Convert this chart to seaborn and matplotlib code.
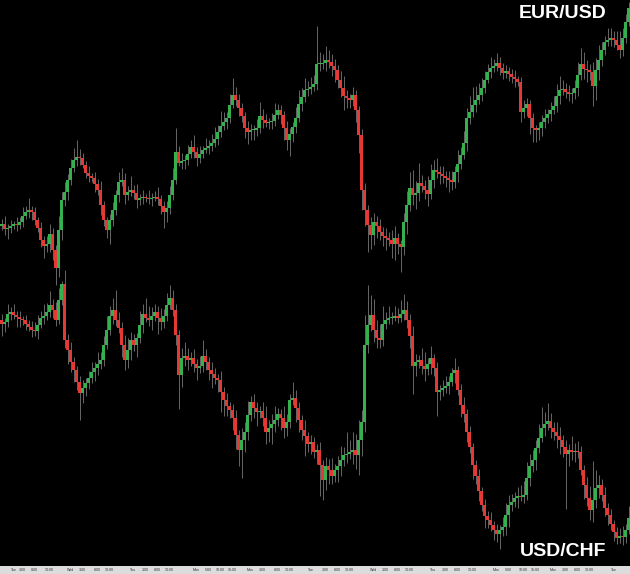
import matplotlib
matplotlib.use("Agg")
import matplotlib.pyplot as plt
import seaborn as sns
import numpy as np
import pandas as pd

# closes in pips above the base price, one per 15-min-ish candle
eur_base = 1.3000
eur_close_pips = [
    76, 71, 72, 74, 76, 75, 78, 84, 88, 90, 88, 80, 72, 60, 54, 56, 66, 50, 32, 70, 100,
    108, 120, 132, 140, 143, 142, 135, 127, 124, 122, 116, 110, 95, 80, 70, 80, 90, 105, 118, 120,
    105, 108, 110, 107, 100, 102, 103, 102, 101, 102, 103, 101, 94, 88, 92, 105, 120, 148, 137, 139,
    140, 146, 153, 148, 142, 146, 150, 152, 154, 157, 161, 168, 174, 178, 182, 195, 205, 200, 192, 184,
    172, 168, 170, 170, 172, 184, 180, 177, 178, 179, 185, 190, 185, 172, 160, 166, 173, 182, 196, 203,
    210, 211, 213, 216, 236, 236, 237, 240, 238, 234, 230, 220, 212, 204, 202, 200, 205, 190, 165, 110,
    90, 75, 65, 78, 74, 68, 64, 62, 60, 56, 62, 56, 53, 78, 95, 112, 105, 107, 117, 114,
    110, 106, 120, 130, 128, 126, 124, 122, 120, 118, 128, 136, 145, 157, 182, 188, 195, 200, 205, 212,
    220, 228, 232, 234, 237, 232, 227, 229, 226, 223, 221, 218, 188, 192, 196, 182, 172, 170, 172, 178,
    182, 186, 190, 194, 204, 210, 211, 208, 206, 207, 212, 225, 236, 231, 230, 228, 214, 230, 240, 250,
    258, 260, 262, 260, 255, 250, 262, 278, 292,
]
eur_open0_pips = 74
eur_wick_up = [
    5, 8, 4, 6, 3, 7, 5, 9, 6, 12, 4, 5, 3, 6, 4, 8, 10, 6, 5, 14, 8,
    10, 6, 9, 12, 17, 8, 5, 4, 7, 3, 6, 5, 9, 4, 3, 6, 8, 5, 10, 12, 7,
    6, 14, 5, 9, 4, 7, 3, 8, 5, 6, 10, 4, 5, 7, 9, 12, 24, 6, 8, 5, 9,
    7, 12, 5, 8, 4, 10, 6, 9, 12, 7, 15, 10, 6, 11, 17, 8, 6, 5, 4, 7, 6,
    5, 9, 14, 7, 6, 4, 8, 12, 6, 5, 4, 7, 6, 5, 11, 14, 9, 12, 8, 10, 9,
    38, 12, 9, 14, 10, 8, 7, 5, 9, 12, 6, 4, 8, 5, 4, 6, 7, 5, 8, 9, 6,
    7, 5, 8, 6, 10, 12, 5, 4, 9, 14, 16, 18, 12, 20, 8, 6, 14, 16, 10, 12, 6,
    8, 5, 7, 9, 6, 14, 8, 12, 10, 16, 18, 14, 12, 10, 9, 8, 11, 7, 10, 6, 5,
    6, 4, 5, 7, 3, 5, 8, 6, 4, 5, 3, 6, 7, 9, 5, 8, 10, 12, 14, 9, 6,
    7, 5, 8, 13, 16, 12, 9, 6, 10, 12, 15, 8, 6, 12, 10, 7, 9, 14, 10, 8, 6,
]
eur_wick_dn = [
    4, 6, 10, 5, 3, 6, 4, 5, 3, 6, 8, 5, 4, 7, 12, 6, 8, 10, 17, 9, 10,
    6, 8, 5, 4, 6, 7, 3, 5, 6, 4, 8, 5, 10, 6, 8, 14, 6, 5, 7, 4, 9,
    5, 4, 6, 8, 5, 6, 4, 5, 7, 3, 6, 8, 16, 10, 6, 5, 4, 3, 6, 8, 5,
    4, 6, 8, 5, 4, 3, 6, 5, 4, 6, 5, 4, 7, 5, 3, 6, 8, 6, 10, 12, 8,
    10, 6, 5, 8, 4, 6, 7, 5, 4, 9, 12, 10, 16, 8, 6, 4, 7, 5, 6, 5, 4,
    6, 7, 5, 8, 6, 10, 12, 8, 9, 14, 10, 8, 6, 12, 18, 20, 16, 27, 14, 10, 12,
    8, 10, 12, 6, 14, 16, 10, 25, 8, 12, 6, 10, 14, 8, 6, 9, 12, 5, 8, 6, 10,
    7, 9, 12, 8, 6, 10, 5, 4, 8, 6, 5, 7, 4, 6, 5, 3, 6, 4, 5, 7, 6,
    5, 7, 6, 8, 4, 10, 6, 8, 16, 14, 12, 10, 8, 6, 5, 7, 4, 6, 8, 5, 6,
    7, 9, 6, 8, 5, 10, 12, 8, 20, 14, 10, 6, 5, 4, 6, 7, 5, 8, 6, 5, 4,
]

chf_base = 0.9000
chf_close_pips = [
    236, 238, 246, 248, 245, 243, 241, 240, 236, 233, 230, 229, 235, 242, 244, 248, 255, 250, 240, 260, 276,
    220, 210, 198, 190, 178, 167, 172, 177, 182, 188, 192, 196, 200, 215, 230, 244, 250, 240, 232, 215,
    200, 210, 220, 215, 222, 235, 246, 242, 240, 244, 248, 242, 238, 244, 255, 262, 250, 225, 185, 202,
    204, 200, 202, 196, 192, 194, 204, 198, 190, 186, 182, 180, 168, 160, 154, 150, 142, 125, 110, 120,
    128, 145, 158, 152, 148, 149, 142, 128, 132, 136, 140, 146, 142, 132, 138, 160, 162, 152, 140, 130,
    124, 116, 118, 108, 110, 95, 80, 94, 90, 84, 90, 94, 100, 105, 106, 108, 110, 105, 120, 138,
    215, 235, 245, 230, 222, 220, 236, 240, 242, 242, 244, 242, 246, 250, 240, 224, 194, 198, 200, 194,
    191, 196, 202, 192, 168, 170, 172, 174, 178, 187, 190, 170, 155, 146, 128, 113, 95, 84, 69, 55,
    44, 40, 35, 30, 26, 30, 33, 45, 55, 58, 62, 64, 63, 65, 82, 94, 100, 112, 122, 132,
    136, 139, 132, 128, 124, 120, 113, 106, 110, 108, 109, 108, 90, 75, 62, 50, 60, 72, 75, 65,
    52, 45, 36, 28, 22, 24, 23, 30, 42,
]
chf_open0_pips = 240
chf_wick_up = [
    6, 4, 10, 5, 8, 4, 6, 3, 5, 4, 6, 8, 10, 7, 12, 9, 14, 6, 8, 12, 3,
    14, 6, 8, 5, 4, 6, 8, 5, 7, 10, 6, 12, 8, 9, 14, 10, 12, 20, 8, 6, 10,
    12, 8, 6, 5, 14, 10, 16, 12, 9, 8, 6, 10, 7, 12, 13, 8, 6, 5, 10, 14, 8,
    6, 9, 5, 10, 16, 7, 5, 8, 6, 4, 9, 5, 7, 4, 6, 8, 5, 12, 10, 14, 6,
    8, 6, 5, 9, 12, 8, 10, 14, 6, 5, 12, 8, 6, 16, 8, 6, 5, 10, 4, 7, 5,
    6, 8, 5, 9, 7, 12, 6, 10, 14, 8, 22, 12, 18, 16, 20, 12, 30, 40, 20, 16, 10,
    14, 18, 8, 12, 6, 10, 8, 14, 16, 9, 6, 10, 8, 5, 12, 14, 6, 12, 4, 6, 5,
    8, 10, 6, 5, 12, 4, 6, 8, 5, 6, 4, 5, 7, 4, 6, 5, 8, 4, 6, 5, 10,
    12, 10, 8, 6, 9, 11, 14, 16, 12, 10, 8, 14, 21, 12, 18, 8, 6, 10, 9, 5, 7,
    6, 14, 8, 10, 6, 5, 8, 12, 39, 18, 10, 6, 8, 5, 6, 4, 5, 8, 10, 6, 12,
]
chf_wick_dn = [
    12, 8, 5, 6, 4, 10, 8, 5, 6, 4, 7, 5, 8, 3, 6, 4, 5, 8, 6, 4, 5,
    8, 14, 10, 12, 8, 27, 10, 8, 6, 5, 9, 7, 5, 6, 4, 5, 8, 6, 5, 12, 10,
    8, 10, 6, 12, 5, 8, 4, 6, 10, 5, 16, 8, 6, 5, 4, 6, 10, 34, 12, 8, 10,
    6, 8, 12, 5, 6, 8, 10, 14, 6, 12, 20, 16, 10, 8, 12, 14, 16, 28, 12, 8, 6,
    10, 14, 6, 8, 12, 10, 16, 8, 6, 12, 10, 8, 6, 5, 14, 12, 10, 20, 8, 10, 6,
    12, 31, 20, 10, 14, 8, 6, 12, 10, 6, 8, 5, 12, 14, 20, 16, 10, 8, 6, 12, 10,
    8, 6, 5, 4, 6, 3, 5, 4, 6, 8, 12, 28, 10, 6, 8, 12, 6, 10, 8, 24, 8,
    6, 5, 8, 4, 10, 5, 12, 8, 10, 6, 14, 8, 10, 6, 12, 8, 6, 10, 8, 15, 6,
    8, 12, 6, 5, 10, 4, 6, 5, 8, 6, 10, 5, 4, 8, 6, 10, 8, 12, 14, 10, 55,
    12, 8, 10, 6, 5, 14, 8, 10, 12, 8, 10, 6, 8, 10, 6, 9, 6, 5, 8, 6, 4,
]

# time axis labels (candle index where each label sits)
tick_idx = [4, 7, 11, 16, 23, 27, 32, 36, 44, 48, 52, 56, 65, 69, 73, 77, 83, 87, 92, 96,
            103, 108, 112, 116, 124, 128, 132, 136, 144, 148, 152, 157, 165, 169, 174, 178,
            184, 188, 192, 196, 204]
tick_labels = ["Tue", "3:00", "8:00", "13:00", "Wed", "3:00", "8:00", "13:00",
               "Thu", "3:00", "8:00", "13:00", "Mon", "5:00", "10:00", "15:00",
               "Mon", "3:00", "8:00", "13:00", "Tue", "3:00", "8:00", "13:00",
               "Wed", "3:00", "8:00", "13:00", "Thu", "3:00", "8:00", "13:00",
               "Mon", "5:00", "10:00", "15:00", "Mon", "3:00", "8:00", "13:00", "Tue"]

UP = "#35b04f"
DOWN = "#e53935"
WICK = "#777777"


def make_ohlc(base, open0, close_pips, wick_up, wick_dn):
    c = base + np.array(close_pips) / 10000
    o = np.r_[base + open0 / 10000, c[:-1]]
    hi = np.maximum(o, c) + np.array(wick_up) / 10000
    lo = np.minimum(o, c) - np.array(wick_dn) / 10000
    return pd.DataFrame({"open": o, "high": hi, "low": lo, "close": c})


def draw_candles(ax, df):
    x = np.arange(len(df))
    ax.vlines(x, df["low"], df["high"], color=WICK, linewidth=0.6, zorder=1)
    bottom = np.minimum(df["open"], df["close"])
    height = np.maximum((df["close"] - df["open"]).abs(), 0.0001)
    colors = np.where(df["close"] >= df["open"], UP, DOWN)
    ax.bar(x, height, bottom=bottom, width=0.75, color=colors, linewidth=0, zorder=2)


eur = make_ohlc(eur_base, eur_open0_pips, eur_close_pips, eur_wick_up, eur_wick_dn)
chf = make_ohlc(chf_base, chf_open0_pips, chf_close_pips, chf_wick_up, chf_wick_dn)

sns.set_style("dark", {"axes.facecolor": "black", "figure.facecolor": "black"})
plt.rcParams["font.family"] = ["Liberation Sans", "DejaVu Sans"]

W, H = 630, 574
fig = plt.figure(figsize=(W / 100, H / 100), dpi=100, facecolor="black")
n = len(eur)

ax_eur = fig.add_axes([0, 274 / H, 1, 300 / H])
ax_chf = fig.add_axes([0, 14 / H, 1, 300 / H])
for ax, df, lim in [(ax_eur, eur, (1.3000, 1.3300)), (ax_chf, chf, (0.9000, 0.9300))]:
    ax.set_facecolor("none")
    draw_candles(ax, df)
    ax.set_xlim(-0.5, n - 0.5)
    ax.set_ylim(*lim)
    ax.axis("off")

ax_time = fig.add_axes([0, 0, 1, 8 / H])
ax_time.set_facecolor("#dcdcdc")
ax_time.set_xlim(-0.5, n - 0.5)
ax_time.set_ylim(0, 1)
ax_time.set_xticks([])
ax_time.set_yticks([])
for s in ax_time.spines.values():
    s.set_visible(False)
for i, lab in zip(tick_idx, tick_labels):
    ax_time.text(i, 0.45, lab, fontsize=2.6, color="#333333", ha="center", va="center")

fig.text(563 / W, 1 - 13 / H, "EUR/USD", color="white", fontsize=14,
         fontweight="bold", ha="center", va="center")
fig.text(563 / W, 1 - 552 / H, "USD/CHF", color="white", fontsize=14,
         fontweight="bold", ha="center", va="center")

fig.savefig("out.png", dpi=100, facecolor="black")
plt.close(fig)
